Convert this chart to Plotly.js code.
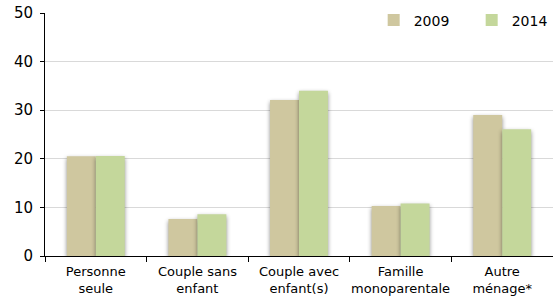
<!DOCTYPE html>
<html>
<head>
<meta charset="utf-8">
<script src="https://cdn.plot.ly/plotly-3.0.1.min.js"></script>
<style>
html,body{margin:0;padding:0;background:#fff;}
#chart{width:553px;height:300px;}
#chart .barlayer .point path{filter:drop-shadow(0px 2px 2px rgba(0,0,0,0.45));}
</style>
</head>
<body>
<div id="chart"></div>
<script>
var categories = ["Personne<br>seule", "Couple sans<br>enfant", "Couple avec<br>enfant(s)", "Famille<br>monoparentale", "Autre<br>ménage*"];
var values2009 = [20.5, 7.6, 32.1, 10.3, 29.0];
var values2014 = [20.6, 8.6, 34.0, 10.8, 26.1];
var seriesNames = ["2009", "2014"];
var yTicks = [0, 10, 20, 30, 40, 50];

var font = "Verdana, 'DejaVu Sans', sans-serif";
var traces = [
  {type: "bar", name: seriesNames[0], x: categories, y: values2009,
   marker: {color: "#cfc79f", line: {width: 0}}, hoverinfo: "none"},
  {type: "bar", name: seriesNames[1], x: categories, y: values2014,
   marker: {color: "#c4d79b", line: {width: 0}}, hoverinfo: "none"}
];
var layout = {
  width: 553, height: 300,
  margin: {l: 45, r: 0, t: 13, b: 44, pad: 0, autoexpand: false},
  paper_bgcolor: "#fff", plot_bgcolor: "#fff",
  barmode: "group", bargap: 0.43, bargroupgap: 0,
  font: {family: font, size: 12, color: "#000"},
  showlegend: true,
  legend: {orientation: "h", x: 0.647, xanchor: "left", y: 1.035, yanchor: "top",
           bgcolor: "rgba(0,0,0,0)", font: {family: font, size: 14, color: "#000"},
           itemwidth: 30, traceorder: "normal", entrywidth: 53},
  shapes: [{type: "rect", xref: "paper", yref: "paper", x0: 0.6, x1: 1.0, y0: 0.99, y1: 1.05,
            fillcolor: "#fff", line: {width: 0}, layer: "above"}],
  xaxis: {type: "category", showline: true, linecolor: "#000", linewidth: 1,
          ticks: "outside", tickson: "boundaries", ticklen: 5, tickcolor: "#000",
          showgrid: false, ticklabelstandoff: 3, tickangle: 0,
          tickfont: {family: font, size: 13, color: "#000"}, fixedrange: true},
  yaxis: {range: [0, 50], tickvals: yTicks, showline: true, linecolor: "#000", linewidth: 1,
          ticks: "outside", ticklen: 4, tickcolor: "#000", ticklabelstandoff: 4,
          showgrid: true, gridcolor: "#d9d9d9", gridwidth: 1, zeroline: false,
          tickfont: {family: font, size: 15, color: "#000"}, fixedrange: true}
};
Plotly.newPlot("chart", traces, layout, {displayModeBar: false, staticPlot: true});
</script>
</body>
</html>
